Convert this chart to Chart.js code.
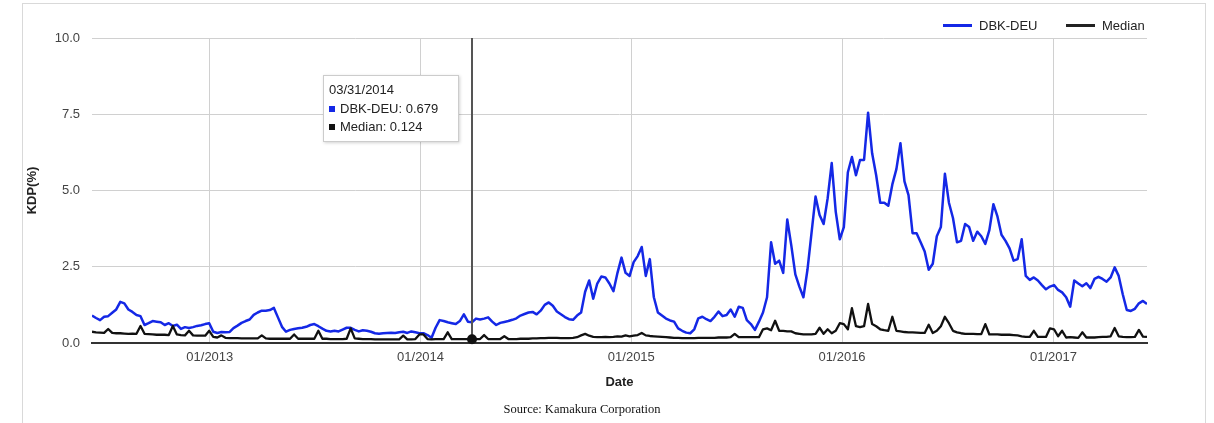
<!DOCTYPE html>
<html><head><meta charset="utf-8">
<script src="https://cdn.jsdelivr.net/npm/chart.js@4/dist/chart.umd.min.js"></script>
<style>
html,body{margin:0;padding:0;background:#fff;}
#wrap{position:relative;width:1214px;height:423px;overflow:hidden;font-family:"Liberation Sans",Arial,sans-serif;}
#frame{position:absolute;left:22px;top:3px;width:1184px;height:440px;border:1px solid #d9d9d9;box-sizing:border-box;}
#c{position:absolute;left:0;top:0;}
.leg{position:absolute;top:17px;font-size:13px;color:#222;height:18px;line-height:18px;white-space:nowrap;}
.sw{display:inline-block;width:29px;height:3px;vertical-align:middle;margin-right:7px;position:relative;top:-1px;}
#source{position:absolute;top:402px;left:0;width:1164px;text-align:center;font-family:"Liberation Serif","Times New Roman",serif;font-size:12.5px;color:#111;}
</style>
</head><body>
<div id="wrap">
  <div id="frame"></div>
  <canvas id="c" width="1214" height="423"></canvas>
  <div class="leg" style="left:943px"><span class="sw" style="background:#1428e6"></span>DBK-DEU</div>
  <div class="leg" style="left:1066px"><span class="sw" style="background:#222"></span>Median</div>
  <div id="source">Source: Kamakura Corporation</div>
</div>
<script>
// weekly observations (Mondays) starting 2012-06-11
const firstWeek = [2012, 5, 11];
const seriesNames = ['DBK-DEU', 'Median'];
const dbkDeu = [
0.90,0.82,0.75,0.86,0.88,0.99,1.10,1.35,1.30,1.10,
1.02,0.92,0.88,0.59,0.65,0.72,0.70,0.68,0.59,0.65,
0.56,0.60,0.46,0.52,0.49,0.52,0.56,0.58,0.62,0.65,
0.37,0.33,0.36,0.35,0.36,0.49,0.57,0.66,0.72,0.77,
0.92,1.00,1.06,1.06,1.08,1.15,0.84,0.53,0.37,0.43,
0.46,0.48,0.50,0.53,0.59,0.62,0.55,0.47,0.40,0.38,
0.40,0.38,0.44,0.50,0.50,0.43,0.38,0.42,0.40,0.37,
0.32,0.30,0.32,0.33,0.34,0.33,0.35,0.37,0.33,0.38,
0.35,0.32,0.32,0.26,0.17,0.50,0.75,0.72,0.68,0.65,
0.62,0.72,0.94,0.70,0.679,0.80,0.77,0.80,0.84,0.70,
0.59,0.66,0.69,0.72,0.76,0.81,0.90,0.95,1.00,1.02,
0.94,1.06,1.25,1.33,1.22,1.03,0.94,0.85,0.78,0.76,
0.90,1.00,1.68,2.05,1.45,1.95,2.18,2.15,1.95,1.70,
2.30,2.80,2.30,2.20,2.65,2.85,3.15,2.20,2.75,1.50,
1.00,0.90,0.80,0.74,0.70,0.48,0.40,0.34,0.32,0.45,
0.81,0.86,0.78,0.72,0.86,1.03,0.88,0.92,1.10,0.86,
1.19,1.15,0.75,0.62,0.43,0.70,1.00,1.50,3.30,2.60,
2.70,2.30,4.05,3.20,2.25,1.85,1.50,2.40,3.60,4.80,
4.20,3.90,4.75,5.90,4.30,3.40,3.80,5.60,6.10,5.50,
6.00,6.00,7.55,6.22,5.50,4.60,4.60,4.50,5.20,5.70,
6.55,5.30,4.85,3.60,3.60,3.30,3.00,2.40,2.60,3.50,
3.80,5.55,4.60,4.10,3.30,3.35,3.90,3.80,3.35,3.65,
3.50,3.25,3.70,4.55,4.15,3.55,3.35,3.10,2.70,2.75,
3.40,2.20,2.07,2.15,2.05,1.90,1.76,1.85,1.90,1.74,
1.66,1.50,1.19,2.05,1.95,1.86,1.96,1.80,2.10,2.17,
2.10,2.01,2.15,2.48,2.20,1.60,1.08,1.05,1.12,1.30,
1.38,1.28];
const median = [
0.37,0.35,0.34,0.33,0.46,0.33,0.32,0.32,0.31,0.30,
0.31,0.30,0.56,0.30,0.29,0.28,0.27,0.27,0.27,0.26,
0.56,0.28,0.26,0.25,0.40,0.25,0.24,0.24,0.24,0.40,
0.20,0.18,0.25,0.17,0.16,0.16,0.16,0.15,0.15,0.15,
0.15,0.15,0.25,0.15,0.14,0.14,0.14,0.14,0.14,0.14,
0.28,0.14,0.14,0.14,0.14,0.14,0.40,0.14,0.14,0.13,
0.13,0.13,0.13,0.14,0.48,0.15,0.14,0.13,0.13,0.13,
0.12,0.12,0.12,0.12,0.12,0.12,0.12,0.24,0.12,0.12,
0.13,0.28,0.28,0.13,0.12,0.13,0.13,0.13,0.35,0.13,
0.13,0.13,0.13,0.13,0.124,0.13,0.13,0.26,0.13,0.13,
0.13,0.13,0.22,0.13,0.13,0.13,0.14,0.14,0.14,0.15,
0.15,0.16,0.16,0.17,0.17,0.17,0.16,0.16,0.16,0.17,
0.19,0.25,0.30,0.24,0.20,0.19,0.19,0.20,0.19,0.20,
0.22,0.21,0.25,0.22,0.24,0.26,0.33,0.25,0.23,0.22,
0.21,0.20,0.19,0.18,0.17,0.17,0.16,0.16,0.16,0.16,
0.17,0.17,0.17,0.17,0.17,0.18,0.18,0.18,0.19,0.30,
0.19,0.19,0.19,0.19,0.19,0.19,0.45,0.48,0.42,0.73,
0.40,0.40,0.38,0.38,0.32,0.30,0.28,0.28,0.28,0.30,
0.50,0.30,0.45,0.32,0.40,0.65,0.62,0.45,1.14,0.55,
0.52,0.55,1.28,0.62,0.55,0.45,0.42,0.40,0.86,0.40,
0.38,0.36,0.35,0.35,0.34,0.33,0.33,0.60,0.33,0.40,
0.55,0.86,0.65,0.40,0.35,0.32,0.30,0.30,0.30,0.29,
0.29,0.62,0.28,0.28,0.28,0.27,0.27,0.27,0.26,0.25,
0.22,0.20,0.20,0.40,0.20,0.20,0.20,0.48,0.45,0.22,
0.40,0.18,0.19,0.18,0.17,0.35,0.18,0.18,0.18,0.19,
0.20,0.20,0.22,0.49,0.22,0.20,0.19,0.19,0.20,0.43,
0.21,0.20];
const yTickValues = [0, 2.5, 5, 7.5, 10];
const xTickYears = [2013, 2014, 2015, 2016, 2017];
const tooltipIndex = 94; // 03/31/2014

const DAY = 86400000;
const t0 = Date.UTC(firstWeek[0], firstWeek[1], firstWeek[2]);
const weekDates = dbkDeu.map((_, i) => t0 + i * 7 * DAY);
const pad2 = n => String(n).padStart(2, '0');
const fmtDate = t => { const d = new Date(t); return pad2(d.getUTCMonth()+1) + '/' + pad2(d.getUTCDate()) + '/' + d.getUTCFullYear(); };

const BLUE = '#1428e6', BLACK = '#111';
const FONT = '"Liberation Sans", Arial, sans-serif';

const tipPlugin = {
  id: 'tip',
  afterDatasetsDraw(chart) {
    const {ctx, chartArea: a, scales: {x, y}} = chart;
    const px = Math.round(x.getPixelForValue(weekDates[tooltipIndex]));
    ctx.save();
    ctx.strokeStyle = '#555'; ctx.lineWidth = 2;
    ctx.beginPath(); ctx.moveTo(px, a.top); ctx.lineTo(px, a.bottom); ctx.stroke();
    ctx.fillStyle = BLACK;
    ctx.beginPath(); ctx.arc(px, y.getPixelForValue(median[tooltipIndex]), 5, 0, Math.PI*2); ctx.fill();
    const bw = 136, bh = 67, bx = px - 13 - bw, by = a.top + 37;
    ctx.shadowColor = 'rgba(0,0,0,0.18)'; ctx.shadowBlur = 3; ctx.shadowOffsetX = 1; ctx.shadowOffsetY = 1;
    ctx.fillStyle = '#fff'; ctx.fillRect(bx, by, bw, bh);
    ctx.shadowColor = 'transparent';
    ctx.strokeStyle = '#ccc'; ctx.lineWidth = 1;
    ctx.strokeRect(bx + 0.5, by + 0.5, bw - 1, bh - 1);
    ctx.font = '13px ' + FONT; ctx.textBaseline = 'middle'; ctx.fillStyle = '#222';
    ctx.fillText(fmtDate(weekDates[tooltipIndex]), bx + 6, by + 15);
    const rows = [[BLUE, seriesNames[0] + ': ' + dbkDeu[tooltipIndex].toFixed(3)], [BLACK, seriesNames[1] + ': ' + median[tooltipIndex].toFixed(3)]];
    rows.forEach((r, k) => {
      const ty = by + 34 + k * 18;
      ctx.fillStyle = r[0]; ctx.fillRect(bx + 6, ty - 3, 6, 6);
      ctx.fillStyle = '#222'; ctx.fillText(r[1], bx + 17, ty);
    });
    ctx.restore();
  }
};

new Chart(document.getElementById('c'), {
  type: 'line',
  data: {
    datasets: [
      {label: seriesNames[0], data: dbkDeu.map((v, i) => ({x: weekDates[i], y: v})), borderColor: BLUE, backgroundColor: BLUE, borderWidth: 2.5, pointRadius: 0, tension: 0, borderJoinStyle: 'round', order: 1},
      {label: seriesNames[1], data: median.map((v, i) => ({x: weekDates[i], y: v})), borderColor: BLACK, backgroundColor: BLACK, borderWidth: 2.3, pointRadius: 0, tension: 0, borderJoinStyle: 'round', order: 0}
    ]
  },
  options: {
    responsive: false, animation: false, devicePixelRatio: 1,
    layout: {padding: {left: 21, right: 67, top: 38, bottom: 29}},
    plugins: {legend: {display: false}, tooltip: {enabled: false}},
    font: {family: FONT},
    scales: {
      x: {
        type: 'linear', min: weekDates[0], max: weekDates[weekDates.length - 1],
        afterBuildTicks: s => { s.ticks = xTickYears.map(yr => ({value: Date.UTC(yr, 0, 1)})); },
        afterFit: s => { s.height = 51; },
        ticks: {callback: v => '01/' + new Date(v).getUTCFullYear(), color: '#444', font: {family: FONT, size: 13}, padding: 7, maxRotation: 0, autoSkip: false},
        grid: {color: '#d0d0d0', drawTicks: false, lineWidth: 1},
        border: {display: true, color: '#333', width: 2},
        title: {display: true, text: 'Date', color: '#222', font: {family: FONT, size: 13, weight: 'bold'}, padding: {top: 4, bottom: 4}}
      },
      y: {
        min: 0, max: 10,
        afterBuildTicks: s => { s.ticks = yTickValues.map(v => ({value: v})); },
        afterFit: s => { s.width = 71; },
        ticks: {callback: v => Number(v).toFixed(1), color: '#444', font: {family: FONT, size: 13}, padding: 12},
        grid: {color: c => (c.tick && c.tick.value === 0) ? 'rgba(0,0,0,0)' : '#d0d0d0', drawTicks: false},
        border: {display: false},
        title: {display: true, text: 'KDP(%)', color: '#222', font: {family: FONT, size: 13, weight: 'bold'}, padding: {top: 4, bottom: 4}}
      }
    }
  },
  plugins: [tipPlugin]
});
</script>
</body></html>
